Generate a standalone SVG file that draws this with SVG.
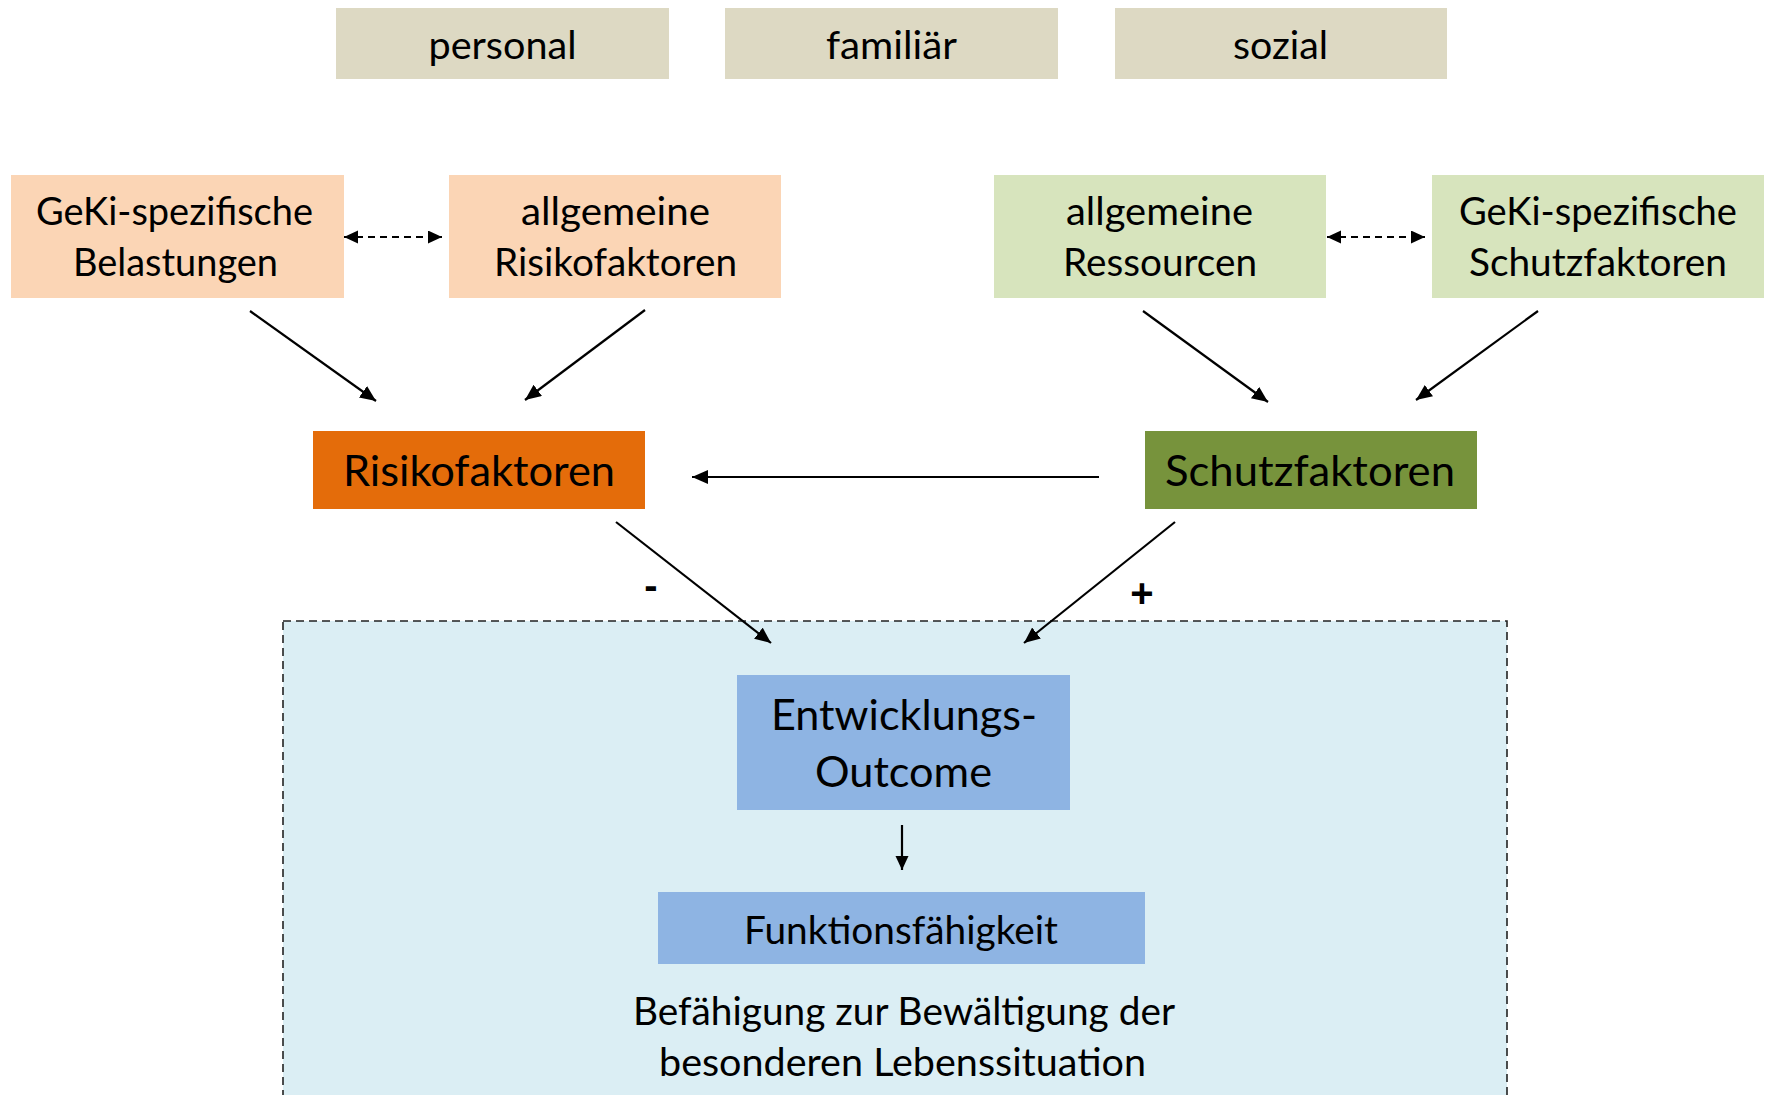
<svg xmlns="http://www.w3.org/2000/svg" width="1769" height="1095" viewBox="0 0 1769 1095">
  <style>
    text { font-family: Lato, "Open Sans", "Liberation Sans", sans-serif; fill: #000; text-anchor: middle; }
    .cat { fill: #DDD9C3; }
    .risk { fill: #FBD5B5; }
    .res { fill: #D7E4BD; }
    .blue { fill: #8EB4E3; }
    .conn { stroke: #000; stroke-width: 2.2; fill: none; }
    .dash { stroke: #000; stroke-width: 2; fill: none; stroke-dasharray: 7 5; }
    .t39 { font-size: 39px; }
    .t38 { font-size: 38px; }
    .t43 { font-size: 43px; }
    .sign { font-family: "Liberation Sans", Arial, sans-serif; font-weight: bold; font-size: 40px; }
  </style>
  <defs>
    <marker id="head" markerUnits="userSpaceOnUse" markerWidth="18" markerHeight="16" refX="16" refY="7" orient="auto">
      <path d="M0,0 L16,7 L0,14 Z" fill="#000"/>
    </marker>
    <marker id="headS" markerUnits="userSpaceOnUse" markerWidth="16" markerHeight="14" refX="14" refY="6.5" orient="auto-start-reverse">
      <path d="M0,0 L14,6.5 L0,13 Z" fill="#000"/>
    </marker>
  </defs>

  <rect width="1769" height="1095" fill="#fff"/>

  <!-- outcome area -->
  <g id="outcome-area">
    <rect x="283" y="621" width="1224" height="490" fill="#DBEEF4" stroke="#222" stroke-width="1.6" stroke-dasharray="8 5"/>
  </g>

  <!-- domains -->
  <g id="personal">
    <rect class="cat" x="336" y="8" width="333" height="71"/>
    <text class="t39" x="502.5" y="59" textLength="148" lengthAdjust="spacingAndGlyphs">personal</text>
  </g>
  <g id="familiaer">
    <rect class="cat" x="725" y="8" width="333" height="71"/>
    <text class="t39" x="891.5" y="59" textLength="131" lengthAdjust="spacingAndGlyphs">familiär</text>
  </g>
  <g id="sozial">
    <rect class="cat" x="1115" y="8" width="332" height="71"/>
    <text class="t39" x="1280.5" y="59" textLength="95" lengthAdjust="spacingAndGlyphs">sozial</text>
  </g>

  <!-- risk side -->
  <g id="geki-belastungen">
    <rect class="risk" x="11" y="175" width="333" height="123"/>
    <text class="t38" x="174.5" y="225" textLength="277" lengthAdjust="spacingAndGlyphs">GeKi-spezifische</text>
    <text class="t38" x="175.5" y="276" textLength="205" lengthAdjust="spacingAndGlyphs">Belastungen</text>
  </g>
  <g id="allg-risiko">
    <rect class="risk" x="449" y="175" width="332" height="123"/>
    <text class="t38" x="615.5" y="225" textLength="189" lengthAdjust="spacingAndGlyphs">allgemeine</text>
    <text class="t38" x="615.5" y="276" textLength="243" lengthAdjust="spacingAndGlyphs">Risikofaktoren</text>
  </g>

  <!-- resource side -->
  <g id="allg-ressourcen">
    <rect class="res" x="994" y="175" width="332" height="123"/>
    <text class="t38" x="1159.5" y="225" textLength="187" lengthAdjust="spacingAndGlyphs">allgemeine</text>
    <text class="t38" x="1160" y="276" textLength="194" lengthAdjust="spacingAndGlyphs">Ressourcen</text>
  </g>
  <g id="geki-schutz">
    <rect class="res" x="1432" y="175" width="332" height="123"/>
    <text class="t38" x="1598" y="225" textLength="278" lengthAdjust="spacingAndGlyphs">GeKi-spezifische</text>
    <text class="t38" x="1598" y="276" textLength="258" lengthAdjust="spacingAndGlyphs">Schutzfaktoren</text>
  </g>

  <!-- aggregated factors -->
  <g id="risikofaktoren">
    <rect x="313" y="431" width="332" height="78" fill="#E46C0A"/>
    <text class="t43" x="479" y="486" textLength="272" lengthAdjust="spacingAndGlyphs">Risikofaktoren</text>
  </g>
  <g id="schutzfaktoren">
    <rect x="1145" y="431" width="332" height="78" fill="#77933C"/>
    <text class="t43" x="1310" y="486" textLength="290" lengthAdjust="spacingAndGlyphs">Schutzfaktoren</text>
  </g>

  <!-- outcome chain -->
  <g id="entwicklungs-outcome">
    <rect class="blue" x="737" y="675" width="333" height="135"/>
    <text class="t43" x="904" y="730" textLength="266" lengthAdjust="spacingAndGlyphs">Entwicklungs-</text>
    <text class="t43" x="903.5" y="787" textLength="177" lengthAdjust="spacingAndGlyphs">Outcome</text>
  </g>
  <g id="funktionsfaehigkeit">
    <rect class="blue" x="658" y="892" width="487" height="72"/>
    <text class="t38" x="901" y="944" textLength="314" lengthAdjust="spacingAndGlyphs">Funktionsfähigkeit</text>
  </g>
  <g id="befaehigung">
    <text class="t38" x="904" y="1025" textLength="542" lengthAdjust="spacingAndGlyphs">Befähigung zur Bewältigung der</text>
    <text class="t38" x="902.5" y="1076" textLength="487" lengthAdjust="spacingAndGlyphs">besonderen Lebenssituation</text>
  </g>

  <!-- connectors -->
  <g id="connectors">
    <line class="dash" x1="344" y1="237" x2="442" y2="237" marker-start="url(#headS)" marker-end="url(#headS)"/>
    <line class="dash" x1="1327" y1="237" x2="1425" y2="237" marker-start="url(#headS)" marker-end="url(#headS)"/>

    <line class="conn" x1="250" y1="311" x2="376" y2="401" marker-end="url(#head)"/>
    <line class="conn" x1="645" y1="310" x2="525" y2="400" marker-end="url(#head)"/>
    <line class="conn" x1="1143" y1="311" x2="1268" y2="402" marker-end="url(#head)"/>
    <line class="conn" x1="1538" y1="311" x2="1416" y2="400" marker-end="url(#head)"/>

    <line class="conn" x1="1099" y1="477" x2="692" y2="477" stroke-width="2.7" marker-end="url(#head)"/>

    <line class="conn" x1="616" y1="522" x2="771" y2="643" marker-end="url(#head)"/>
    <line class="conn" x1="1175" y1="522" x2="1024" y2="643" marker-end="url(#head)"/>

    <line class="conn" x1="902" y1="825" x2="902" y2="870" stroke-width="2" marker-end="url(#headS)"/>

    <text class="sign" x="651" y="599">-</text>
    <text class="sign" x="1142" y="607">+</text>
  </g>
</svg>
